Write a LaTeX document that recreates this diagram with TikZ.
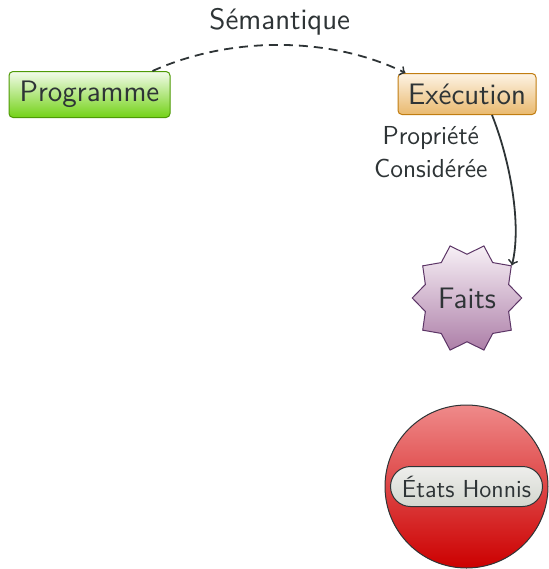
\documentclass[tikz,border=0pt]{standalone}
\usepackage{tikz}
\usetikzlibrary{shapes, arrows, calc}

\definecolor{encre}{HTML}{2E3436}
\definecolor{vertclair}{HTML}{F2FBEA}
\definecolor{vert}{HTML}{73D216}
\definecolor{vertfonce}{HTML}{4E9A06}
\definecolor{orangeclair}{HTML}{FDF3E4}
\definecolor{orange}{HTML}{E9B96E}
\definecolor{orangefonce}{HTML}{C17D11}
\definecolor{pruneclair}{HTML}{F7F0F6}
\definecolor{prune}{HTML}{AD7FA8}
\definecolor{prunefonce}{HTML}{5C3566}
\definecolor{rougeclair}{HTML}{EF8A8A}
\definecolor{rouge}{HTML}{CC0000}
\definecolor{grisclair}{HTML}{EEEEEC}
\definecolor{gris}{HTML}{D3D7CF}

\tikzset{
  texte/.style={text=encre, font=\sffamily\fontsize{14.8}{17}\selectfont},
  boite/.style={texte, draw, line width=0.5pt, rounded corners=2pt, inner sep=2pt},
  fleche/.style={->, draw=encre, line width=0.9pt},
}

\begin{document}
\begin{tikzpicture}[x=0.5pt,y=0.5pt]
\useasboundingbox (0,0) rectangle (548,-569);

\node[boite, draw=vertfonce, top color=vertclair, bottom color=vert,
      minimum width=80.5pt, minimum height=23pt] (programme) at (89.5,-94.5) {Programme};
\node[boite, draw=orangefonce, top color=orangeclair, bottom color=orange,
      minimum width=69pt, minimum height=20.5pt] (execution) at (467,-94) {Exécution};
\node[texte, star, star points=10, star point ratio=1.25, shape border rotate=18,
      minimum size=48.5pt, inner sep=1pt, draw=prunefonce, line width=0.5pt,
      top color=pruneclair, bottom color=prune] (faits) at (467,-298) {Faits};
\node[circle, minimum size=81.5pt, draw=encre, line width=0.5pt,
      top color=rougeclair, bottom color=rouge] (honnis) at (466.5,-486.5) {};
\node[texte, font=\sffamily\fontsize{12.3}{15}\selectfont, draw=encre, line width=0.5pt,
      rounded corners=10pt, minimum width=76pt, minimum height=20pt,
      top color=grisclair, bottom color=gris] (etats) at (honnis.center) {États Honnis};

\draw[fleche, dash pattern=on 4.5pt off 3pt] ([xshift=-9pt]programme.north east)
  .. controls (230,-36) and (330,-36) ..
  node[texte, midway, above=1pt] {Sémantique}
  ([xshift=4pt]execution.north west);
\draw[fleche] ([xshift=12.5pt]execution.south)
  .. controls (510,-160) and (522,-225) ..
  node[texte, font=\sffamily\fontsize{13}{16.5}\selectfont, pos=0.25, left=4.5pt, align=center]
  {Propriété\\Considérée}
  (faits.36);
\end{tikzpicture}
\end{document}
